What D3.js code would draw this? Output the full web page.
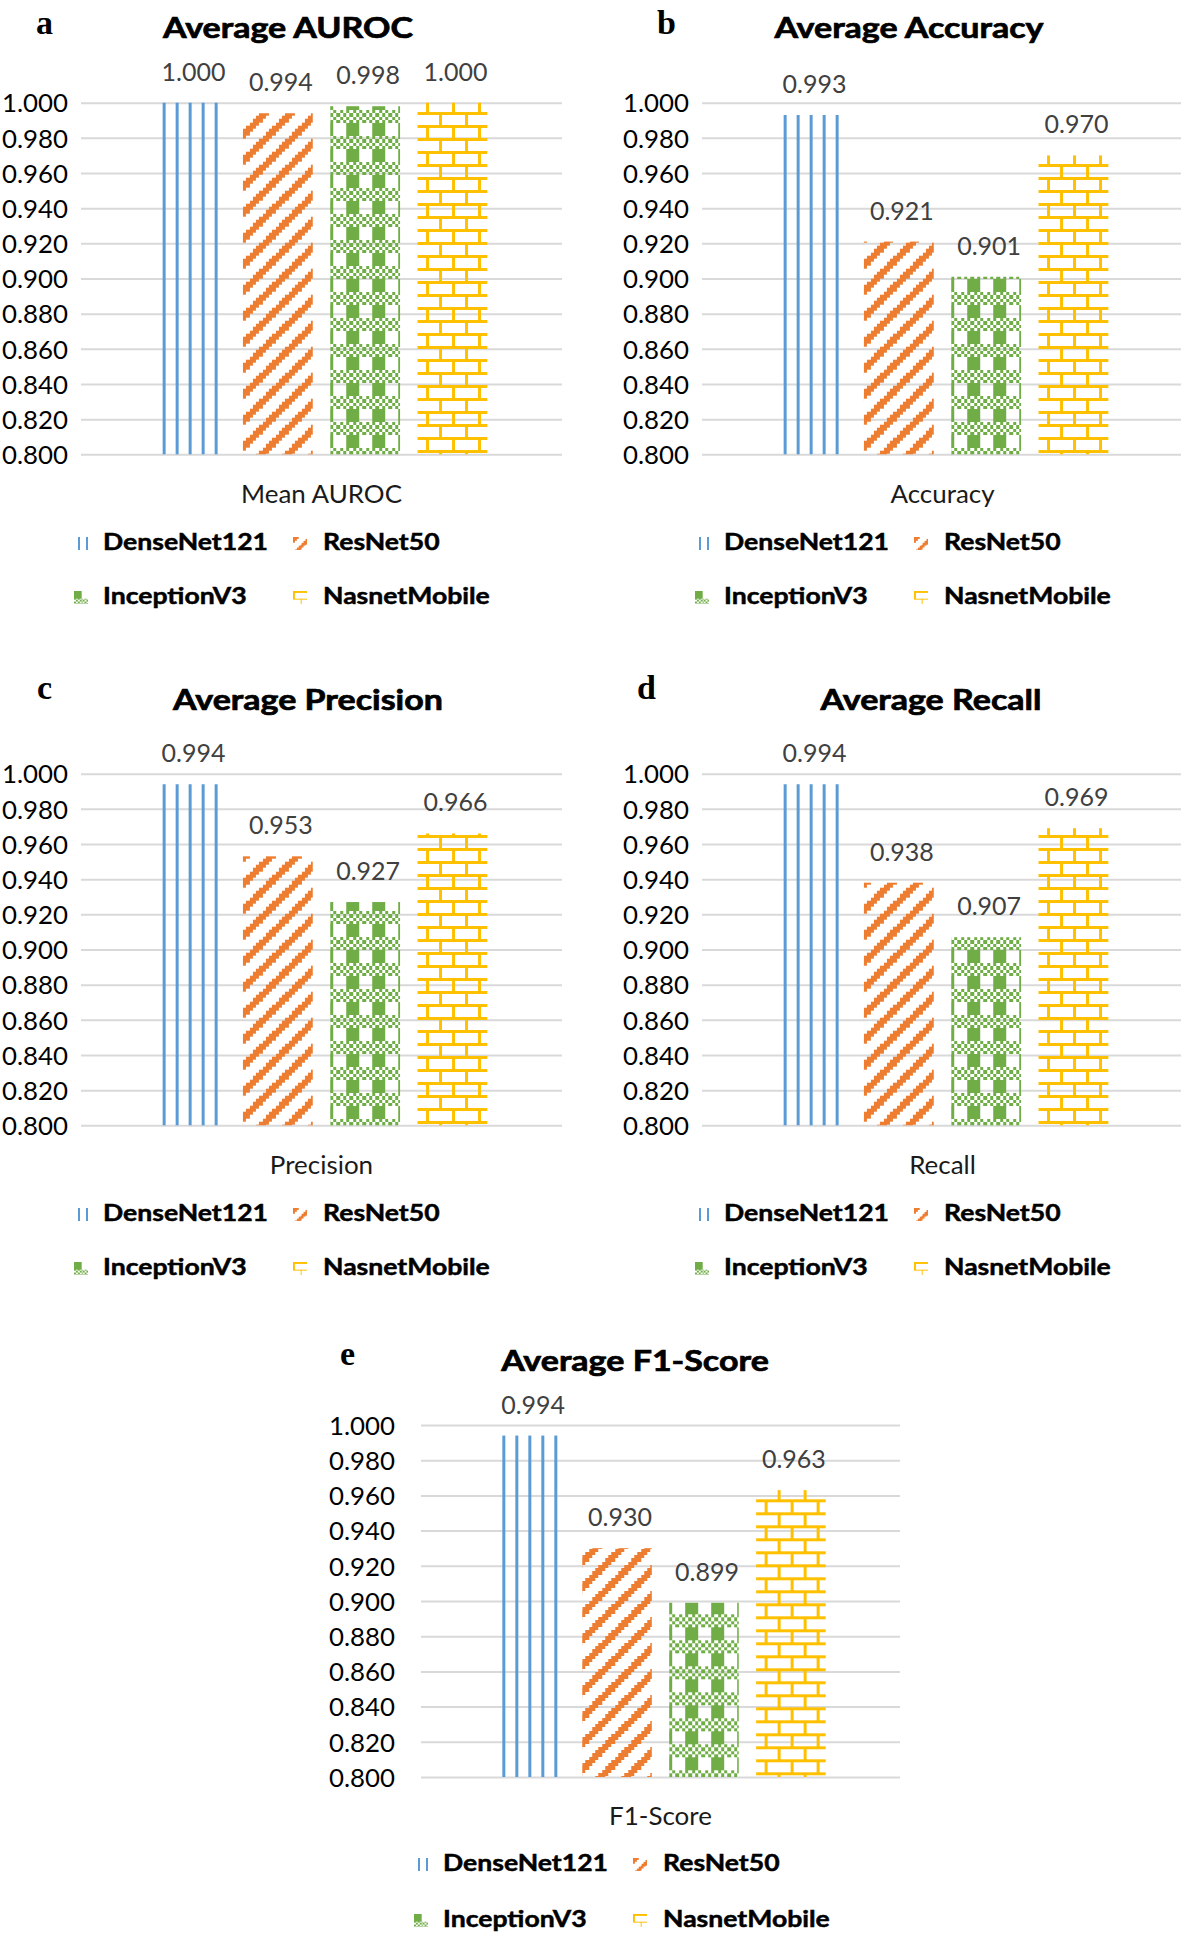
<!DOCTYPE html>
<html><head><meta charset="utf-8">
<script src="https://cdn.jsdelivr.net/npm/d3@7"></script>
<style>body{margin:0;background:#fff} svg{display:block}</style>
</head><body>
<svg id="chart" width="1181" height="1937"></svg>
<script>
// ---------- data ----------
const categories = ["DenseNet121", "ResNet50", "InceptionV3", "NasnetMobile"];
const aurocValues = [1.000, 0.994, 0.998, 1.000];
const accuracyValues = [0.993, 0.921, 0.901, 0.970];
const precisionValues = [0.994, 0.953, 0.927, 0.966];
const recallValues = [0.994, 0.938, 0.907, 0.969];
const f1Values = [0.994, 0.930, 0.899, 0.963];
const yTickValues = [0.800, 0.820, 0.840, 0.860, 0.880, 0.900, 0.920, 0.940, 0.960, 0.980, 1.000];
const panelLetters = ["a", "b", "c", "d", "e"];
const panelTitles = ["Average AUROC", "Average Accuracy", "Average Precision", "Average Recall", "Average F1-Score"];
const metricLabels = ["Mean AUROC", "Accuracy", "Precision", "Recall", "F1-Score"];
const seriesColors = ["#5B9BD5", "#ED7D31", "#70AD47", "#FFC000"];
const panelValues = [aurocValues, accuracyValues, precisionValues, recallValues, f1Values];

// ---------- layout ----------
function basePanel(dx, dy) {
  return {
    x0: 81 + dx, x1: 562 + dx, yTop: 102.7 + dy, yBot: 454.3 + dy, pad: 13,
    letter: [36 + dx, 34 + dy], title: [288 + dx, 38 + dy], cat: 503 + dy,
    legX: [74 + dx, 103 + dx, 293 + dx, 323 + dx], legY: [550 + dy, 604 + dy]
  };
}
const layouts = [basePanel(0, 0), basePanel(621, 0), basePanel(0, 671), basePanel(621, 671), {
  x0: 421, x1: 900, yTop: 1425, yBot: 1777, pad: 26,
  letter: [340, 1365], title: [635, 1371], cat: 1825,
  legX: [414, 443, 633, 663], legY: [1871, 1927]
}];
layouts[2].title = [308, 710]; layouts[2].letter = [37, 699];
layouts[3].title = [931, 710]; layouts[3].letter = [637, 699];

const svg = d3.select("#chart");
const defs = svg.append("defs");
const FONT = "Lato, 'Open Sans', sans-serif";

function addPattern(id, kind, color, s, ox, oy) {
  const T = 8 * s;
  const p = defs.append("pattern").attr("id", id).attr("patternUnits", "userSpaceOnUse")
    .attr("x", ox).attr("y", oy).attr("width", T).attr("height", T);
  const g = p.append("g").attr("fill", color).attr("shape-rendering", "crispEdges");
  const r = (x, y, w, h) => g.append("rect").attr("x", x * s).attr("y", y * s).attr("width", w * s).attr("height", h * s);
  if (kind === 0) { r(2, 0, 1, 8); r(6, 0, 1, 8); }
  else if (kind === 1) {
    let d = "";
    for (let j = 0; j < 8; j++) for (let i = 0; i < 8; i++) if ((i + j) % 8 < 3)
      d += `M${i * s},${j * s}h${s}v${s}h${-s}Z`;
    g.append("path").attr("d", d);
  }
  else if (kind === 2) {
    r(0, 0, 4, 4);
    let d = "";
    for (let j = 4; j < 8; j++) for (let i = 0; i < 8; i++) if ((i + j) % 2 === 0)
      d += `M${i * s},${j * s}h${s}v${s}h${-s}Z`;
    g.append("path").attr("d", d);
  }
  else { r(0, 0, 8, 1); r(0, 4, 8, 1); r(0, 1, 1, 3); r(4, 5, 1, 3); }
  return `url(#${id})`;
}

const titleTexts = [], tickTexts = [], valueTexts = [], catTexts = [], legendTexts = [];
const iconScale = [2.0, 1.8, 1.8, 1.8];

layouts.forEach((L, pi) => {
  const values = panelValues[pi];
  const g = svg.append("g");
  const y = d3.scaleLinear().domain([0.8, 1.0]).range([L.yBot, L.yTop]);
  const x = d3.scaleBand().domain(categories).range([L.x0, L.x1]).paddingInner(0.2).paddingOuter(0.855);

  // gridlines + tick labels
  const axis = d3.axisLeft(y).tickValues(yTickValues).tickFormat(d3.format(".3f"))
    .tickSize(-(L.x1 - L.x0)).tickPadding(L.pad);
  const ag = g.append("g").attr("transform", `translate(${L.x0},0)`).call(axis);
  ag.select(".domain").remove();
  ag.selectAll(".tick line").attr("stroke", "#D9D9D9").attr("stroke-width", 2);
  ag.selectAll(".tick text").attr("font-family", FONT).attr("font-size", 25).attr("fill", "#000")
    .attr("dy", "0.37em").each(function () { tickTexts.push(this); });
  ag.attr("font-family", null).attr("font-size", null);

  // bars
  const origins = [
    (bx) => [bx, 0],
    (bx) => [bx, L.yTop],
    (bx) => [bx + 16, L.yTop + 20.3],
    (bx) => [bx - 4.5, L.yTop + 9.3]
  ];
  categories.forEach((c, i) => {
    const bx = x(c);
    const [ox, oy] = origins[i](bx);
    const fill = addPattern(`p${pi}_${i}`, i, seriesColors[i], 3.25, ox, oy);
    g.append("rect").attr("x", bx).attr("width", x.bandwidth())
      .attr("y", y(values[i])).attr("height", y(0.8) - y(values[i])).attr("fill", fill);
    const t = g.append("text").attr("x", bx + x.bandwidth() / 2 + 3).attr("y", y(values[i]) - 22)
      .attr("text-anchor", "middle").attr("font-family", FONT).attr("font-size", 25)
      .attr("fill", "#404040").text(d3.format(".3f")(values[i]));
    valueTexts.push(t.node());
  });

  // panel letter
  g.append("text").attr("x", L.letter[0]).attr("y", L.letter[1])
    .attr("font-family", "'Liberation Serif', 'Times New Roman', serif").attr("font-weight", "bold")
    .attr("font-size", 34).attr("fill", "#000").text(panelLetters[pi]);
  // title
  titleTexts.push(g.append("text").attr("x", L.title[0]).attr("y", L.title[1]).attr("text-anchor", "middle")
    .attr("font-family", FONT).attr("font-weight", "bold").attr("font-size", 29).attr("fill", "#000")
    .attr("stroke", "#000").attr("stroke-width", 0.7)
    .text(panelTitles[pi]).node());
  // category label
  catTexts.push(g.append("text").attr("x", (L.x0 + L.x1) / 2).attr("y", L.cat).attr("text-anchor", "middle")
    .attr("font-family", FONT).attr("font-size", 25).attr("fill", "#1a1a1a")
    .text(metricLabels[pi]).node());

  // legend
  categories.forEach((c, i) => {
    const col = i % 2, row = Math.floor(i / 2);
    const ix = L.legX[col * 2], tx = L.legX[col * 2 + 1], by = L.legY[row];
    const fill = addPattern(`lp${pi}_${i}`, i, seriesColors[i], iconScale[i], ix, by - 13);
    g.append("rect").attr("x", ix).attr("y", by - 13).attr("width", 14).attr("height", 13).attr("fill", fill);
    legendTexts.push(g.append("text").attr("x", tx).attr("y", by).attr("font-family", FONT)
      .attr("font-weight", "bold").attr("font-size", 23.5).attr("fill", "#000")
      .attr("stroke", "#000").attr("stroke-width", 0.5).text(c).node());
  });
});

// width matching to the reference text metrics
function fitGroup(nodes, refNode, refWidth) {
  const ratio = refWidth / refNode.getComputedTextLength();
  if (Math.abs(ratio - 1) < 0.02) return;
  nodes.forEach(n => {
    const w = n.getComputedTextLength();
    n.setAttribute("textLength", w * ratio);
    n.setAttribute("lengthAdjust", "spacingAndGlyphs");
  });
}
fitGroup(titleTexts, titleTexts[0], 250);
fitGroup(tickTexts, tickTexts[tickTexts.length - 1], 66);
fitGroup(valueTexts, valueTexts[0], 64);
fitGroup(catTexts, catTexts[0], 161);
fitGroup(legendTexts, legendTexts[0], 165);
</script>
</body></html>
